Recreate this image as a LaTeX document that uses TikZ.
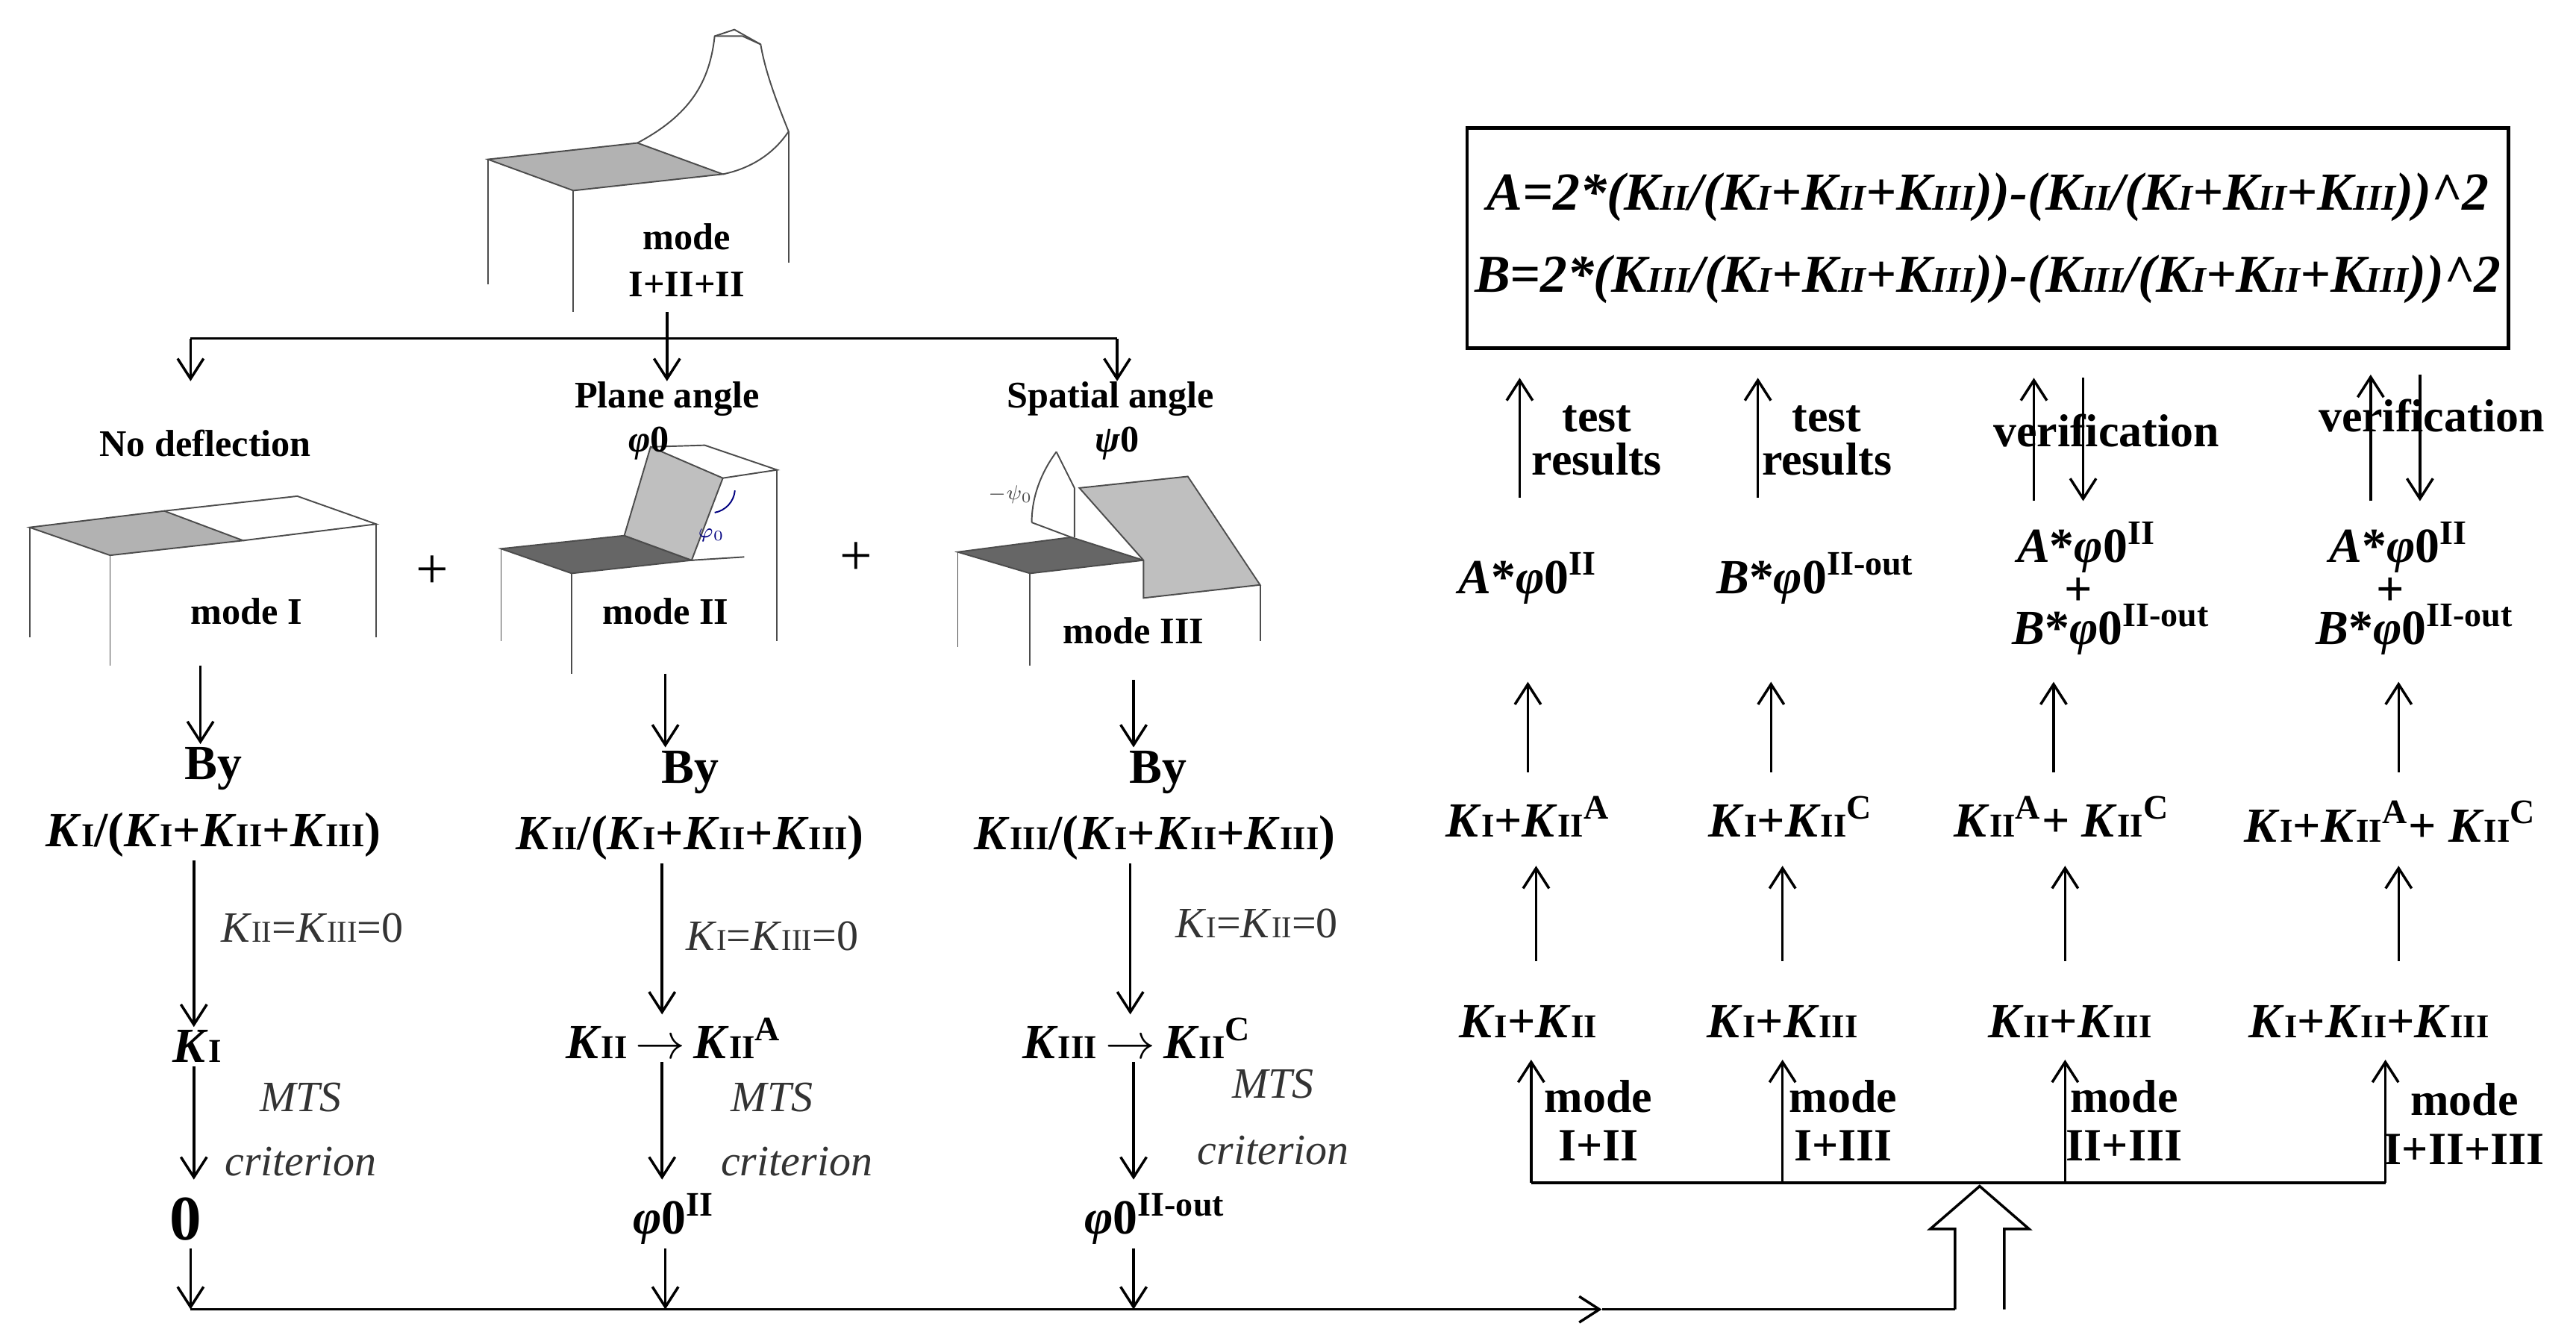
\documentclass[tikz,border=0pt]{standalone}
\usepackage{fontspec}
\setmainfont{Liberation Serif}
\usetikzlibrary{arrows.meta}
\newcommand{\Kn}[1]{\textit{K}\scalebox{0.68}{#1}}
\newcommand{\phz}{\textit{\char"03C6}0}
\tikzset{
  txt/.style={font=\bfseries\fontsize{13}{14}\selectfont, inner sep=1pt},
  big/.style={font=\bfseries\fontsize{17}{18}\selectfont, inner sep=1pt},
  mid/.style={font=\bfseries\fontsize{16}{17}\selectfont, inner sep=1pt, align=center},
  thin/.style={font=\fontsize{15}{16}\selectfont, text=black!80, inner sep=1pt},
  arr/.style={-{Straight Barb[length=7pt,width=9pt]}, line width=0.9pt},
  ln/.style={line width=0.9pt},
  sk/.style={draw=black!70, line width=0.5pt},
}
\begin{document}
\begin{tikzpicture}[x=0.02cm, y=-0.02cm]
  \useasboundingbox (0,0) rectangle (1568,816);

  % Sketches
  \filldraw[sk, fill=black!30] (297,97) -- (388,87) -- (440,106) -- (349,116) -- cycle;
  \draw[sk] (297,97) -- (297,173) (349,116) -- (349,190) (480,80) -- (480,160);
  \draw[sk] (388,87) .. controls (420,70) and (432,50) .. (435,22) -- (447,18) -- (463,27) .. controls (466,45) and (474,65) .. (480,80) .. controls (470,95) and (455,103) .. (440,106);
  \draw[sk] (435,22) -- (452,22) -- (463,27);

  \filldraw[sk, fill=black!30] (18,321) -- (100,311) -- (148,329) -- (67,338) -- cycle;
  \draw[sk] (100,311) -- (181,302) -- (229,319) -- (148,329);
  \draw[sk] (18,321) -- (18,388) (67,338) -- (67,405) (229,319) -- (229,388);

  \filldraw[sk, fill=black!60] (305,334) -- (380,326) -- (421,341) -- (348,349) -- cycle;
  \filldraw[sk, fill=black!25] (380,326) -- (396,272) -- (440,291) -- (421,341) -- cycle;
  \draw[sk] (396,272) -- (429,271) -- (473,286) -- (440,291);
  \draw[sk] (305,334) -- (305,390) (348,349) -- (348,410) (473,286) -- (473,390);
  \draw[sk] (421,341) -- (453,339);
  \draw[sk, blue!50!black] (435,312) arc[start angle=80, end angle=5, radius=15];
  \node[font=\fontsize{7}{7}\selectfont\itshape, text=blue!50!black, inner sep=0pt] (phs) at (433,326) {$\varphi_0$};

  \filldraw[sk, fill=black!60] (583,336) -- (652,327) -- (696,341) -- (627,349) -- cycle;
  \filldraw[sk, fill=black!25] (657,297) -- (723,290) -- (767,356) -- (696,364) -- (696,341) -- cycle;
  \draw[sk] (654,297) -- (654,327) (643,275) -- (654,297) (628,318) -- (652,327);
  \draw[sk] (643,275) .. controls (632,290) and (628,305) .. (628,318);
  \draw[sk] (583,336) -- (583,394) (627,349) -- (627,405) (767,356) -- (767,390);
  \node[font=\fontsize{7}{7}\selectfont, text=black!70, inner sep=0pt] (psis) at (615,301) {$-\psi_0$};

  % Left tree
  \node[txt] (mode) at (418,144) {mode};
  \node[txt] (mall) at (418,173) {I+II+II};
  \node[txt] (nod) at (125,270) {No deflection};
  \node[txt] (pla) at (406,243) {Plane angle};
  \node[txt] (phl) at (395,270) {\phz};
  \node[txt] (spa) at (676,243) {Spatial angle};
  \node[txt] (psl) at (680,270) {\textit{\char"03C8}0};
  \node[txt] (m1) at (150,372) {mode I};
  \node[txt] (m2) at (405,372) {mode II};
  \node[txt] (m3) at (690,384) {mode III};
  \node[font=\fontsize{20}{20}\selectfont] (p1) at (263,348) {+};
  \node[font=\fontsize{20}{20}\selectfont] (p2) at (521,340) {+};

  \coordinate (c0) at (406,206);
  \coordinate (cl) at (116,206);
  \coordinate (cr) at (680,206);
  \draw[ln] (cl) -- (cr);
  \draw[arr] (406,190) -- (406,232);
  \draw[arr] (cl) -- (116,232);
  \draw[arr] (cr) -- (680,232);

  \node[big] (by1) at (130,468) {By};
  \node[big] (by2) at (420,470) {By};
  \node[big] (by3) at (705,470) {By};
  \node[big] (r1) at (130,508) {\Kn{I}/(\Kn{I}+\Kn{II}+\Kn{III})};
  \node[big] (r2) at (420,510) {\Kn{II}/(\Kn{I}+\Kn{II}+\Kn{III})};
  \node[big] (r3) at (703,510) {\Kn{III}/(\Kn{I}+\Kn{II}+\Kn{III})};
  \draw[arr] (122,405) -- (by1.north -| 122,0);
  \draw[arr] (405,410) -- (by2.north -| 405,0);
  \draw[arr] (690,414) -- (by3.north -| 690,0);

  \node[big] (k1) at (120,637) {\Kn{I}};
  \node[big] (k2) at (410,632) {\Kn{II}$\,\to\,$\Kn{II}\textsuperscript{A}};
  \node[big] (k3) at (692,632) {\Kn{III}$\,\to\,$\Kn{II}\textsuperscript{C}};
  \draw[arr] (r1.south -| 118,0) -- (k1.north -| 118,0);
  \draw[arr] (r2.south -| 403,0) -- (k2.north -| 403,0);
  \draw[arr] (r3.south -| 688,0) -- (k3.north -| 688,0);
  \node[thin] (e1) at (190,565) {\textit{K}\scalebox{0.7}{II}=\textit{K}\scalebox{0.7}{III}=0};
  \node[thin] (e2) at (470,570) {\textit{K}\scalebox{0.7}{I}=\textit{K}\scalebox{0.7}{III}=0};
  \node[thin] (e3) at (765,562) {\textit{K}\scalebox{0.7}{I}=\textit{K}\scalebox{0.7}{II}=0};

  \node[big, font=\bfseries\fontsize{22}{22}\selectfont] (z1) at (113,742) {0};
  \node[big] (z2) at (410,742) {\phz\textsuperscript{II}};
  \node[big] (z3) at (703,742) {\phz\textsuperscript{II-out}};
  \draw[arr] (k1.south -| 118,0) -- (118,718);
  \draw[arr] (k2.south -| 403,0) -- (403,718);
  \draw[arr] (k3.south -| 690,0) -- (690,718);
  \foreach \n/\x/\y in {1/183/668, 2/470/668, 3/775/660} {
    \node[thin, font=\itshape\fontsize{15}{16}\selectfont] (mts\n) at (\x,\y) {MTS};
  }
  \node[thin, font=\itshape\fontsize{15}{16}\selectfont] (cr1) at (183,707) {criterion};
  \node[thin, font=\itshape\fontsize{15}{16}\selectfont] (cr2) at (485,707) {criterion};
  \node[thin, font=\itshape\fontsize{15}{16}\selectfont] (cr3) at (775,700) {criterion};

  % Bottom line and hollow arrow
  \coordinate (b1) at (116,797);
  \coordinate (bm) at (975,797);
  \coordinate (be) at (1190,797);
  \draw[arr] (116,760) -- (b1);
  \draw[arr] (405,760) -- (405,797);
  \draw[arr] (690,760) -- (690,797);
  \draw[arr] (b1) -- (bm);
  \draw[ln] (bm) -- (be);
  \draw[ln, fill=white] (1190,797) -- (1190,748) -- (1175,748) -- (1205,722) -- (1235,748) -- (1220,748) -- (1220,797);

  % Right part
  \node[draw, line width=1.2pt, minimum width=634*0.02cm, minimum height=134*0.02cm] (box) at (1210,145) {};
  \node[big, font=\bfseries\itshape\fontsize{17}{18}\selectfont] (fa) at (1210,120) {\resizebox{12.2cm}{!}{A=2*(\Kn{II}/(\Kn{I}+\Kn{II}+\Kn{III}))-(\Kn{II}/(\Kn{I}+\Kn{II}+\Kn{III}))\textasciicircum2}};
  \node[big, font=\bfseries\itshape\fontsize{17}{18}\selectfont] (fb) at (1210,170) {\resizebox{12.5cm}{!}{B=2*(\Kn{III}/(\Kn{I}+\Kn{II}+\Kn{III}))-(\Kn{III}/(\Kn{I}+\Kn{II}+\Kn{III}))\textasciicircum2}};

  \node[mid] (t1) at (972,268) {test\\[-2pt]results};
  \node[mid] (t2) at (1112,268) {test\\[-2pt]results};
  \node[mid] (v1) at (1282,262) {verification};
  \node[mid] (v2) at (1480,253) {verification};

  \node[big] (a1) at (930,352) {\textit{A}*\phz\textsuperscript{II}};
  \node[big] (a2) at (1105,352) {\textit{B}*\phz\textsuperscript{II-out}};
  \node[big] (a3) at (1270,333) {\textit{A}*\phz\textsuperscript{II}};
  \node[big] (pl3) at (1265,360) {+};
  \node[big] (b3) at (1285,383) {\textit{B}*\phz\textsuperscript{II-out}};
  \node[big] (a4) at (1460,333) {\textit{A}*\phz\textsuperscript{II}};
  \node[big] (pl4) at (1455,360) {+};
  \node[big] (b4) at (1470,383) {\textit{B}*\phz\textsuperscript{II-out}};

  \node[big] (s1) at (930,497) {\Kn{I}+\Kn{II}\textsuperscript{A}};
  \node[big] (s2) at (1090,497) {\Kn{I}+\Kn{II}\textsuperscript{C}};
  \node[big] (s3) at (1255,497) {\Kn{II}\textsuperscript{A}+ \Kn{II}\textsuperscript{C}};
  \node[big] (s4) at (1455,500) {\Kn{I}+\Kn{II}\textsuperscript{A}+ \Kn{II}\textsuperscript{C}};

  \node[big] (q1) at (930,622) {\Kn{I}+\Kn{II}};
  \node[big] (q2) at (1085,622) {\Kn{I}+\Kn{III}};
  \node[big] (q3) at (1260,622) {\Kn{II}+\Kn{III}};
  \node[big] (q4) at (1442,622) {\Kn{I}+\Kn{II}+\Kn{III}};

  \draw[arr] (925,303) -- (925,230);
  \draw[arr] (1070,303) -- (1070,230);
  \draw[arr] (1238,305) -- (1238,230);
  \draw[arr] (1268,230) -- (1268,305);
  \draw[arr] (1443,305) -- (1443,228);
  \draw[arr] (1473,228) -- (1473,305);

  \foreach \x in {930,1078,1250,1460} \draw[arr] (\x,470) -- (\x,415);
  \foreach \x in {935,1085,1257,1460} \draw[arr] (\x,585) -- (\x,527);

  \coordinate (h1) at (932,720);
  \coordinate (h4) at (1452,720);
  \draw[ln] (h1) -- (h4);
  \foreach \x in {932,1085,1257,1452} \draw[arr] (\x,720) -- (\x,645);
  \node[mid] (n1) at (973,682) {mode\\I+II};
  \node[mid] (n2) at (1122,682) {mode\\I+III};
  \node[mid] (n3) at (1293,682) {mode\\II+III};
  \node[mid] (n4) at (1500,684) {mode\\I+II+III};
\end{tikzpicture}
\end{document}
